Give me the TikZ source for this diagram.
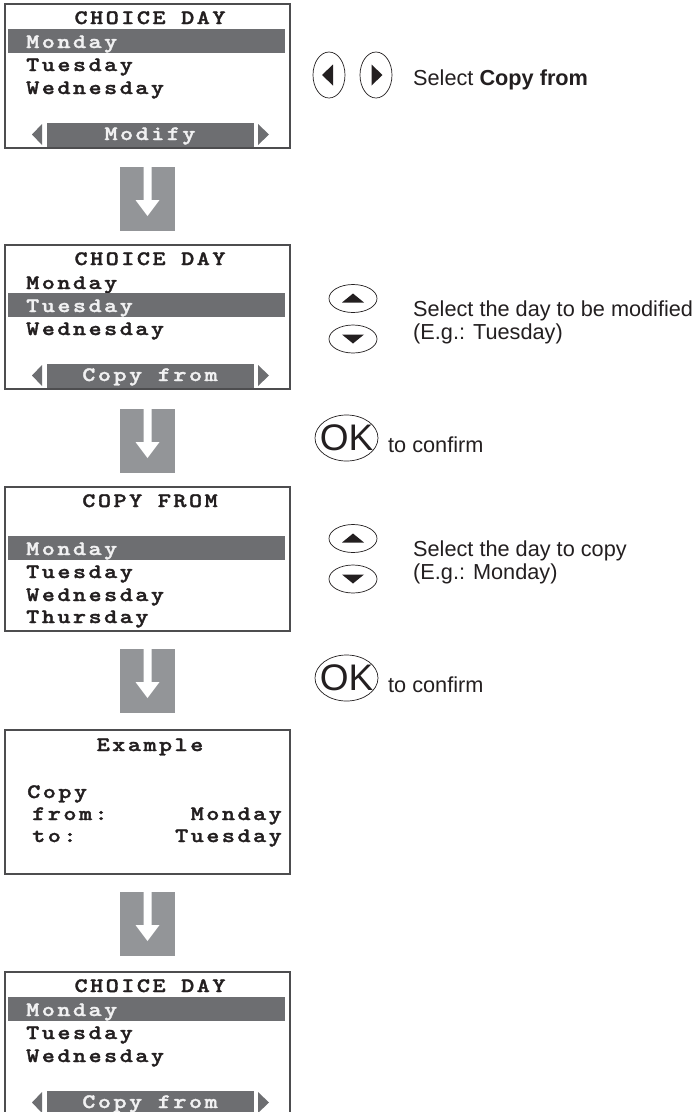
\documentclass[tikz,border=0pt]{standalone}
\usepackage{fontspec}
\setmainfont{Liberation Sans}
\newfontfamily\lcdfont{lmmonolt10-bold.otf}[FakeStretch=1.22, FakeBold=1.6, LetterSpace=12]
\usetikzlibrary{shapes.geometric}
\definecolor{frame}{HTML}{4D4D4F}
\definecolor{barfill}{HTML}{6D6E71}
\definecolor{arrowgray}{HTML}{939598}
\definecolor{ink}{HTML}{231F20}
\definecolor{bartext}{HTML}{F1F1F2}
\tikzset{
  screen/.style={draw=frame, line width=1.4, fill=white, anchor=north west,
    minimum width=285, minimum height=144, inner sep=0, outer sep=0},
  lcd/.style={inner sep=0, text=ink, font=\lcdfont\fontsize{20.5}{24}\selectfont},
  lcdl/.style={lcd, anchor=base west},
  lcdc/.style={lcd, anchor=base},
  lcdr/.style={lcd, anchor=base east},
  hl/.style={text=bartext},
  arrowbox/.style={fill=arrowgray, draw=none, anchor=north west, inner sep=0,
    minimum width=55, minimum height=64},
  btn/.style={draw=ink, line width=0.7, ellipse, inner sep=0},
  body/.style={inner sep=0, anchor=base west, text=ink, font=\fontsize{21.7}{24}\selectfont},
  oktext/.style={inner sep=0, text=ink, font=\fontsize{37}{40}\selectfont}
}
\newcommand\selbar[1]{\fill[barfill] (8,#1-19) rectangle (285,#1+5);}
\newcommand\softkeys[3]{%
  \fill[barfill] (47,#1+119) rectangle (254,#1+142.5);
  \fill[barfill] (32,#1+130.5) -- (42,#1+120) -- (42,#1+141) -- cycle;
  \fill[barfill] (269,#1+130.5) -- (258,#1+120) -- (258,#1+141) -- cycle;
  \node[lcdc, hl] (#2) at (150,#1+136) {#3};}
\newcommand\blockarrow[2]{%
  \node[arrowbox] (#1) at (120,#2) {};
  \fill[white] (143.5,#2) -- (151.5,#2) -- (151.5,#2+33) -- (159.5,#2+33)
    -- (147.5,#2+49) -- (135.5,#2+33) -- (143.5,#2+33) -- cycle;}
\newcommand\updown[3]{%
  \node[btn, minimum width=48, minimum height=28] (#1) at (353,#3) {};
  \fill[ink] (342,#3+4) -- (364,#3+4) -- (353,#3-5) -- cycle;
  \node[btn, minimum width=48, minimum height=28] (#2) at (353,#3+40.5) {};
  \fill[ink] (342,#3+36) -- (364,#3+36) -- (353,#3+45) -- cycle;}
\newcommand\okbutton[3]{%
  \node[btn, minimum width=63, minimum height=46] (#1) at (346.5,#3) {};
  \node[oktext] (#2) at (#1.center) {OK};}
\begin{document}
\begin{tikzpicture}[x=1pt, y=-1pt]
\useasboundingbox (0,0) rectangle (696,1112);
\clip (0,0) rectangle (696,1112);
\fill[white] (0,0) rectangle (696,1112);

% ---------- screen 1
\node[screen] (s1) at (5,4) {};
\node[lcdc] (s1t) at (150,24) {CHOICE DAY};
\selbar{48}
\node[lcdl, hl] (s1a) at (26,48) {Monday};
\node[lcdl] (s1b) at (26,71) {Tuesday};
\node[lcdl] (s1c) at (26,94) {Wednesday};
\softkeys{4}{s1k}{Modify}

\blockarrow{a1}{167}

% ---------- screen 2
\node[screen] (s2) at (5,245) {};
\node[lcdc] (s2t) at (150,265) {CHOICE DAY};
\node[lcdl] (s2a) at (26,289) {Monday};
\selbar{312}
\node[lcdl, hl] (s2b) at (26,312) {Tuesday};
\node[lcdl] (s2c) at (26,335) {Wednesday};
\softkeys{245}{s2k}{Copy from}

\blockarrow{a2}{409}

% ---------- screen 3
\node[screen] (s3) at (5,487) {};
\node[lcdc] (s3t) at (150,507) {COPY FROM};
\selbar{555}
\node[lcdl, hl] (s3a) at (26,555) {Monday};
\node[lcdl] (s3b) at (26,578) {Tuesday};
\node[lcdl] (s3c) at (26,601) {Wednesday};
\node[lcdl] (s3d) at (26,623) {Thursday};

\blockarrow{a3}{649}

% ---------- screen 4
\node[screen] (s4) at (5,730) {};
\node[lcdc] (s4t) at (150,751) {Example};
\node[lcdl] (s4a) at (27,798) {Copy};
\node[lcdl] (s4b) at (32,820) {from:};
\node[lcdr] (s4c) at (282,820) {Monday};
\node[lcdl] (s4d) at (32,842) {to:};
\node[lcdr] (s4e) at (282,842) {Tuesday};

\blockarrow{a4}{892}

% ---------- screen 5
\node[screen] (s5) at (5,972) {};
\node[lcdc] (s5t) at (150,992) {CHOICE DAY};
\selbar{1016}
\node[lcdl, hl] (s5a) at (26,1016) {Monday};
\node[lcdl] (s5b) at (26,1039) {Tuesday};
\node[lcdl] (s5c) at (26,1062) {Wednesday};
\softkeys{972}{s5k}{Copy from}

% ---------- right column
\node[btn, minimum width=32, minimum height=46] (bl) at (329,75) {};
\fill[ink] (322,75) -- (333,64.5) -- (333,85.5) -- cycle;
\node[btn, minimum width=32, minimum height=46] (br) at (376,75) {};
\fill[ink] (382.5,75) -- (371.5,64.5) -- (371.5,85.5) -- cycle;
\node[body] (t1) at (413,85) {Select \textbf{Copy from}};

\updown{u1}{d1}{298.5}
\node[body] (t2) at (413,316) {Select the day to be modified};
\node[body] (t3) at (413,339) {(E.g.: Tuesday)};

\okbutton{ok1}{ok1t}{438}
\node[body] (t4) at (388,452) {to confirm};

\updown{u2}{d2}{538.5}
\node[body] (t5) at (413,556) {Select the day to copy};
\node[body] (t6) at (413,579) {(E.g.: Monday)};

\okbutton{ok2}{ok2t}{678}
\node[body] (t7) at (388,692) {to confirm};
\end{tikzpicture}
\end{document}
